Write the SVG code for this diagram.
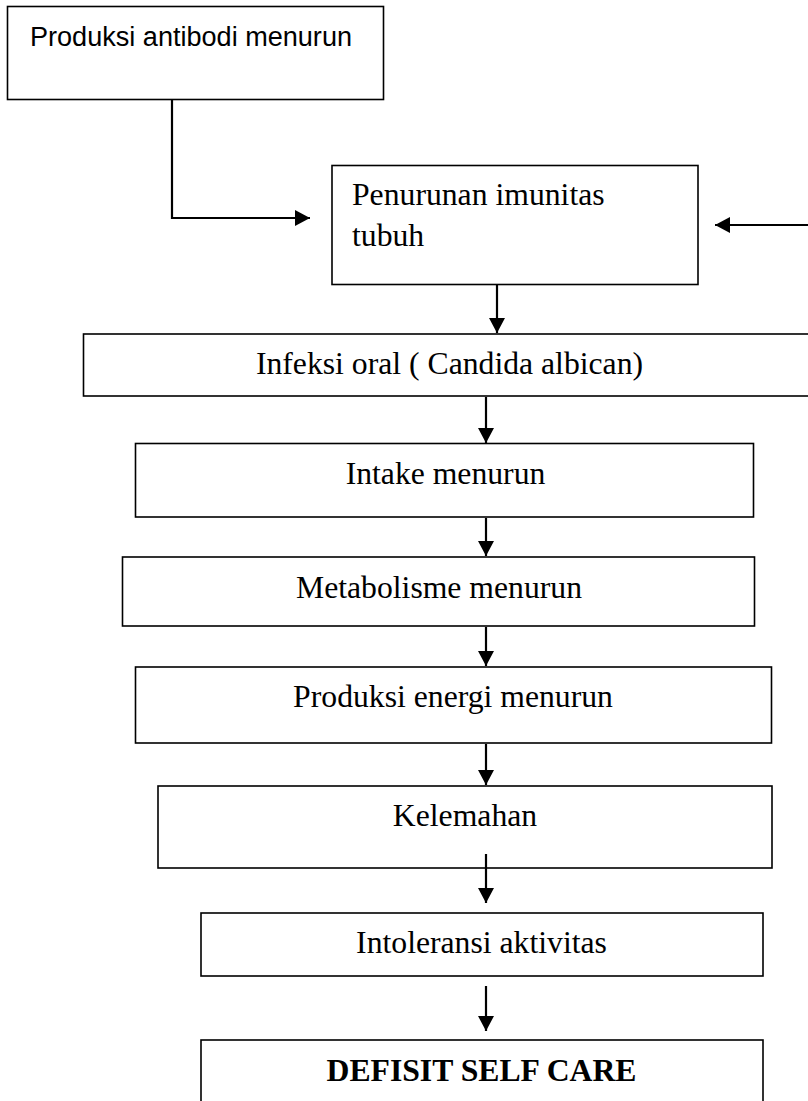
<svg xmlns="http://www.w3.org/2000/svg" width="808" height="1101" viewBox="0 0 808 1101">
  <defs>
    <marker id="ah" markerUnits="userSpaceOnUse" markerWidth="16" markerHeight="16" refX="15" refY="8" orient="auto">
      <path d="M0,0 L15,8 L0,16 z" fill="#000"/>
    </marker>
    <style>
      .box { fill: #fff; stroke: #000; stroke-width: 1.6; }
      .serif { font-family: "Liberation Serif", "Times New Roman", serif; font-size: 31.7px; fill: #000; }
      .sans { font-family: "Liberation Sans", Arial, sans-serif; font-size: 27px; fill: #000; }
      .bold { font-weight: bold; }
      .conn { fill: none; stroke: #000; stroke-width: 2.2; }
    </style>
  </defs>
  <rect width="808" height="1101" fill="#fff"/>

  <g id="n1">
    <rect class="box" x="7.5" y="6.5" width="376" height="93"/>
    <text class="sans" x="30" y="46" textLength="322" lengthAdjust="spacingAndGlyphs">Produksi antibodi menurun</text>
  </g>
  <g id="n2">
    <rect class="box" x="332" y="165.5" width="366" height="119"/>
    <text class="serif" x="352" y="205">Penurunan imunitas</text>
    <text class="serif" x="352" y="246">tubuh</text>
  </g>
  <g id="n3">
    <rect class="box" x="83.5" y="334" width="730" height="62"/>
    <text class="serif" x="449.5" y="374" text-anchor="middle">Infeksi oral ( Candida albican)</text>
  </g>
  <g id="n4">
    <rect class="box" x="135.5" y="443.5" width="618" height="73.5"/>
    <text class="serif" x="445.5" y="484" text-anchor="middle">Intake menurun</text>
  </g>
  <g id="n5">
    <rect class="box" x="122.5" y="557" width="632" height="69"/>
    <text class="serif" x="439" y="598" text-anchor="middle">Metabolisme menurun</text>
  </g>
  <g id="n6">
    <rect class="box" x="135.5" y="667" width="636" height="76"/>
    <text class="serif" x="453" y="707" text-anchor="middle">Produksi energi menurun</text>
  </g>
  <g id="n7">
    <rect class="box" x="158" y="786" width="614" height="82"/>
    <text class="serif" x="465" y="826" text-anchor="middle">Kelemahan</text>
  </g>
  <g id="n8">
    <rect class="box" x="201" y="913" width="562" height="63"/>
    <text class="serif" x="481.5" y="953" text-anchor="middle">Intoleransi aktivitas</text>
  </g>
  <g id="n9">
    <rect class="box" x="201" y="1040" width="562" height="80"/>
    <text class="serif bold" x="481.5" y="1081" text-anchor="middle">DEFISIT SELF CARE</text>
  </g>

  <g id="connectors">
    <path class="conn" d="M172,100 L172,218 L310,218" marker-end="url(#ah)"/>
    <path class="conn" d="M808,225 L715,225" marker-end="url(#ah)"/>
    <path class="conn" d="M497,285 L497,333" marker-end="url(#ah)"/>
    <path class="conn" d="M486,397 L486,443" marker-end="url(#ah)"/>
    <path class="conn" d="M486,518 L486,556" marker-end="url(#ah)"/>
    <path class="conn" d="M486,627 L486,666" marker-end="url(#ah)"/>
    <path class="conn" d="M486,744 L486,785" marker-end="url(#ah)"/>
    <path class="conn" d="M486,854 L486,903" marker-end="url(#ah)"/>
    <path class="conn" d="M486,986 L486,1031" marker-end="url(#ah)"/>
  </g>
</svg>
